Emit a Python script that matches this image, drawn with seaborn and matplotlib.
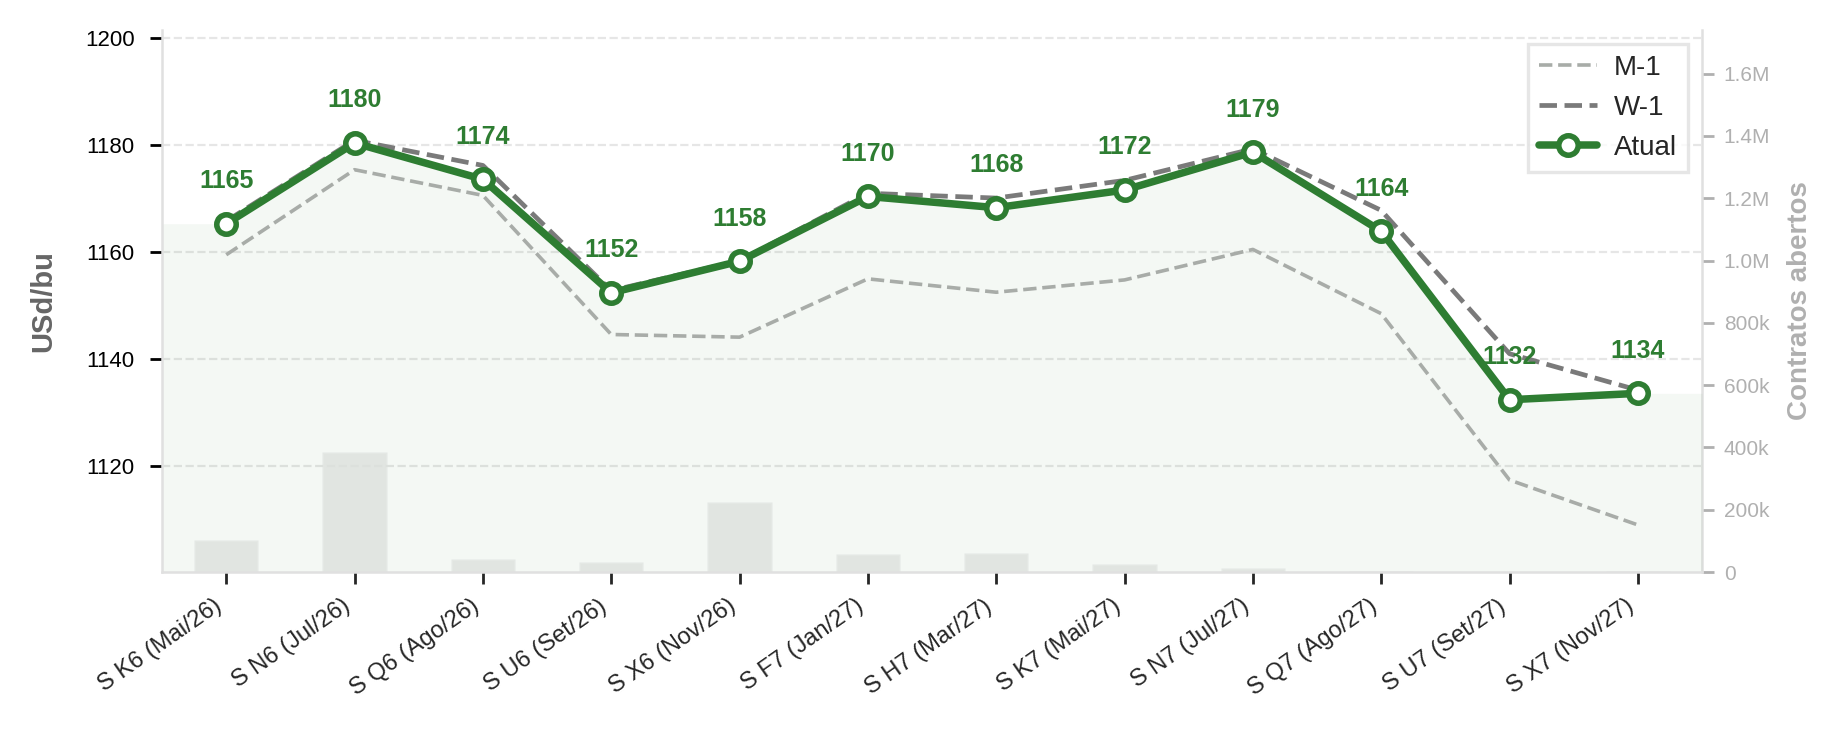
import numpy as np
import matplotlib
matplotlib.use("Agg")
import matplotlib.pyplot as plt
from matplotlib.ticker import MultipleLocator, FuncFormatter
import seaborn as sns

# ---- data ----
contracts = ["S K6 (Mai/26)", "S N6 (Jul/26)", "S Q6 (Ago/26)", "S U6 (Set/26)",
             "S X6 (Nov/26)", "S F7 (Jan/27)", "S H7 (Mar/27)", "S K7 (Mai/27)",
             "S N7 (Jul/27)", "S Q7 (Ago/27)", "S U7 (Set/27)", "S X7 (Nov/27)"]
atual = [1165.3, 1180.4, 1173.6, 1152.4, 1158.3, 1170.4, 1168.3, 1171.6,
         1178.7, 1163.9, 1132.4, 1133.6]
w1 = [1165.8, 1180.9, 1176.2, 1152.8, 1158.4, 1171.0, 1170.1, 1173.4,
      1179.3, 1167.8, 1141.0, 1134.2]
m1 = [1159.5, 1175.4, 1170.6, 1144.6, 1144.1, 1155.0, 1152.5, 1154.8,
      1160.5, 1148.5, 1117.4, 1109.0]
open_int = [103000, 385000, 42000, 32000, 224000, 58000, 61000, 26000,
            13000, 2000, 1500, 4000]

GREEN = "#2e7d32"

sns.set_theme(style="ticks")
plt.rcParams["font.family"] = ["Liberation Sans", "DejaVu Sans"]

fig = plt.figure(figsize=(9.23, 3.67), dpi=200)
ax = fig.add_axes([0.0878, 0.2207, 0.922 - 0.0878, 0.959 - 0.2207])
ax2 = ax.twinx()
ax.set_zorder(ax2.get_zorder() + 1)
ax.patch.set_visible(False)

x = np.arange(len(contracts))

# open interest bars (right axis)
sns.barplot(x=contracts, y=open_int, ax=ax2, color="#9e9e9e", alpha=0.2,
            width=0.5, saturation=1)
ax2.set_ylim(0, 1.74e6)
ax2.yaxis.set_major_locator(MultipleLocator(200000))


def fmt_oi(v, pos):
    if v >= 1e6:
        return f"{v/1e6:.1f}M"
    if v > 0:
        return f"{v/1e3:.0f}k"
    return "0"


ax2.yaxis.set_major_formatter(FuncFormatter(fmt_oi))
ax2.tick_params(axis="y", colors="#b0b0b0", labelsize=7.5, length=4.3, width=1)
ax2.set_ylabel("Contratos abertos", color="#b0b0b0", fontsize=10,
               fontweight="bold", labelpad=6)
ax2.set_xlabel("")
for s in ["top", "left", "bottom"]:
    ax2.spines[s].set_visible(False)
ax2.spines["right"].set_color("#e0e0e0")
ax2.spines["right"].set_linewidth(0.9)

# fill under current curve, carried to the axis edges
xf = np.concatenate([[-0.5], x, [len(x) - 0.5]])
yf = np.concatenate([[atual[0]], atual, [atual[-1]]])
ax.fill_between(xf, yf, 1100.2, color=GREEN, alpha=0.05, lw=0, zorder=1)

sns.lineplot(x=x, y=m1, ax=ax, color="#a8aca8", lw=1.3, linestyle="--",
             label="M-1", zorder=2)
sns.lineplot(x=x, y=w1, ax=ax, color="#7a7a7a", lw=1.7, linestyle="--",
             label="W-1", zorder=3)
sns.lineplot(x=x, y=atual, ax=ax, color=GREEN, lw=2.7, marker="o",
             markersize=7, markerfacecolor="white", markeredgecolor=GREEN,
             markeredgewidth=2.0, label="Atual", zorder=4)

for xi, v in zip(x, atual):
    ax.annotate(f"{v:.0f}", (xi, v), xytext=(0, 11), textcoords="offset points",
                ha="center", va="bottom", color=GREEN, fontsize=9,
                fontweight="bold", zorder=5)

ax.set_xlim(-0.5, len(x) - 0.5)
ax.set_ylim(1100.2, 1201.5)
ax.yaxis.set_major_locator(MultipleLocator(20))
ax.grid(axis="y", color="#e6e6e6", linestyle="--", lw=0.8)
ax.set_xticks(x)
ax.set_xticklabels(contracts, rotation=35, ha="right", fontsize=8.5)
ax.tick_params(axis="y", labelsize=8, length=4.3, width=1, colors="black",
               pad=5.5)
ax.tick_params(axis="x", length=4.3, width=1, pad=4)
ax.set_ylabel("USd/bu", color="#666666", fontsize=10.5, fontweight="bold",
              labelpad=10)
ax.set_xlabel("")
ax.spines["top"].set_visible(False)
ax.spines["right"].set_visible(False)
for s in ["left", "bottom"]:
    ax.spines[s].set_color("#e0e0e0")
    ax.spines[s].set_linewidth(0.9)

leg = ax.legend(loc="upper right", fontsize=10, frameon=True, fancybox=False,
                handlelength=2.1, handletextpad=0.6, labelspacing=0.5,
                borderpad=0.4)
leg.get_frame().set_edgecolor("#e0e0e0")
leg.get_frame().set_linewidth(1.2)

fig.savefig("out.png", dpi=200)
